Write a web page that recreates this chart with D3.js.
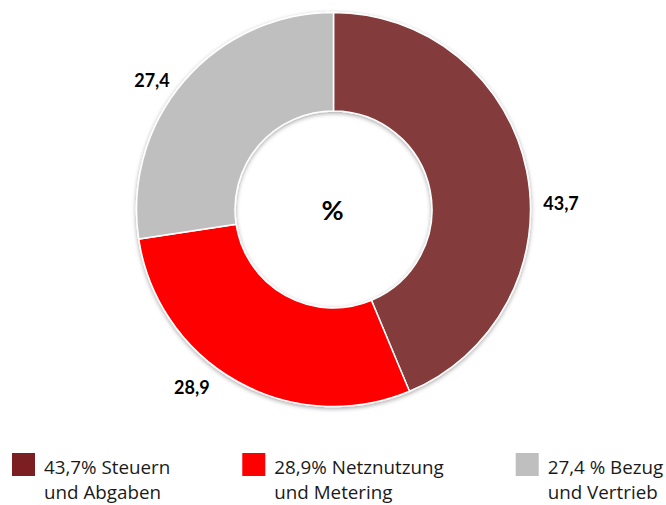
<!DOCTYPE html>
<html><head><meta charset="utf-8">
<script src="https://cdn.jsdelivr.net/npm/d3@7"></script>
<style>html,body{margin:0;padding:0;background:#fff;overflow:hidden}</style>
</head><body>
<svg id="c" width="666" height="505"></svg>
<script>
const categories = ["Steuern und Abgaben", "Netznutzung und Metering", "Bezug und Vertrieb"];
const values = [43.7, 28.9, 27.4];
const valueLabels = ["43,7", "28,9", "27,4"];
const legendLine1 = ["43,7% Steuern", "28,9% Netznutzung", "27,4 % Bezug"];
const legendLine2 = ["und Abgaben", "und Metering", "und Vertrieb"];
const sliceColors = ["#833A3B", "#FF0000", "#BFBFBF"];
const legendColors = ["#7B1F23", "#FF0000", "#BFBFBF"];

const svg = d3.select("#c");
const cx = 333.5, cy = 209.5, R = 197, r = 98.5;

const defs = svg.append("defs");
const f = defs.append("filter").attr("id","sh").attr("x","-20%").attr("y","-20%").attr("width","140%").attr("height","140%");
f.append("feDropShadow").attr("dx",0).attr("dy",1.5).attr("stdDeviation",2).attr("flood-color","#000").attr("flood-opacity",0.35);

const pie = d3.pie().sort(null).value(d => d)(values);
const arc = d3.arc().innerRadius(r).outerRadius(R);
const g = svg.append("g").attr("transform", `translate(${cx},${cy})`);
g.append("g").attr("filter","url(#sh)")
  .selectAll("path").data(pie).join("path")
  .attr("d", arc).attr("fill", (d,i) => sliceColors[i])
  .attr("stroke", "#fff").attr("stroke-width", 1.5);

// value labels (angle tweaks mimic spreadsheet best-fit placement)
const angleShift = [9.95, 9.1, -5.4];
const labelR = [227.6, 227.8, 222.4];
const ang = (d,i) => (d.startAngle + d.endAngle)/2 + angleShift[i]*Math.PI/180;
g.selectAll("text.v").data(pie).join("text").attr("class","v")
  .attr("x", (d,i) => Math.sin(ang(d,i))*labelR[i])
  .attr("y", (d,i) => -Math.cos(ang(d,i))*labelR[i] + 6)
  .attr("text-anchor","middle")
  .attr("font-family","Lato, 'Open Sans', sans-serif").attr("font-weight","bold").attr("font-size",18)
  .attr("fill","#000").text((d,i) => valueLabels[i]);

g.append("text").attr("x",-1).attr("y",10).attr("text-anchor","middle")
  .attr("font-family","Lato, 'Open Sans', sans-serif").attr("font-weight","bold").attr("font-size",27)
  .text("%");

// legend: items flow left to right, each placed after the previous one's text
const lg = svg.append("g").attr("transform","translate(0,453)");
let x = 12;
categories.forEach((c,i) => {
  const item = lg.append("g").attr("transform", `translate(${x},0)`);
  item.append("rect").attr("width",23).attr("height",23).attr("fill",legendColors[i]);
  const t = item.append("text").attr("font-family","'Open Sans', sans-serif")
    .attr("font-size",18.8).attr("fill","#1a1a1a");
  t.append("tspan").attr("x",32).attr("y",21).text(legendLine1[i]);
  t.append("tspan").attr("x",32).attr("y",46).text(legendLine2[i]);
  x += 32 + t.node().getBBox().width + 72;
});
</script>
</body></html>
